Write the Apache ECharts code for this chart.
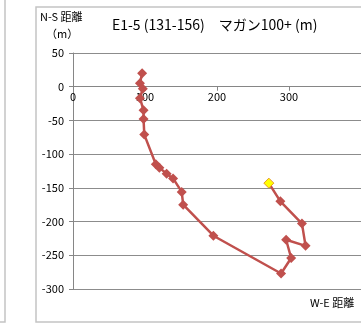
<!DOCTYPE html>
<html><head><meta charset="utf-8">
<script src="https://cdn.jsdelivr.net/npm/echarts@6/dist/echarts.min.js"></script>
<style>html,body{margin:0;padding:0;background:#fff}#c{width:361px;height:325px}</style>
</head><body><div id="c"></div>
<script>
const weDistance = [96, 93, 97, 93, 98, 98, 99, 115, 120, 130, 139, 151, 153, 195, 289, 303, 296, 323, 318, 288, 272];
const nsDistance = [20, 5, -3, -17, -35, -48, -71, -115, -120, -129, -136, -156, -175, -221, -277, -254, -227, -236, -203, -170, -143];
const xTicks = [0, 100, 200, 300, 400];
const yTicks = [50, 0, -50, -100, -150, -200, -250, -300];
const titleText = 'E1-5 (131-156)　マガン100+ (m)';
const yName1 = 'N-S 距離';
const yName2 = '（m）';
const xName = 'W-E 距離';

const FONT = '"Noto Sans CJK JP", "Noto Sans", sans-serif';
const GRID_TOP = 53, GRID_H = 236;
const yMin = yTicks[yTicks.length - 1], yMax = yTicks[0];
// place the x axis where y = 0 crosses the plot
const zeroOffset = -GRID_H * (0 - yMin) / (yMax - yMin);
const last = weDistance.length - 1;
const data = weDistance.map((x, i) => {
  const p = { value: [x, nsDistance[i]] };
  if (i === last) p.itemStyle = { color: '#FFFF00', borderColor: '#E69A28', borderWidth: 1 };
  return p;
});

const chart = echarts.init(document.getElementById('c'), null, { renderer: 'canvas' });
chart.setOption({
  animation: false,
  backgroundColor: '#fff',
  grid: { left: 73, top: GRID_TOP, width: 300, height: GRID_H, containLabel: false },
  xAxis: {
    type: 'value', min: xTicks[0], max: xTicks[xTicks.length - 1], interval: 100,
    position: 'bottom', offset: zeroOffset,
    axisLine: { show: true, onZero: false, lineStyle: { color: '#868686', width: 1 } },
    axisTick: { show: true, length: 4, lineStyle: { color: '#868686' } },
    axisLabel: { color: '#000', fontFamily: FONT, fontSize: 11, margin: 5, showMaxLabel: false },
    splitLine: { show: false }
  },
  yAxis: {
    type: 'value', min: yMin, max: yMax, interval: 50,
    axisLine: { show: true, onZero: false, lineStyle: { color: '#868686', width: 1 } },
    axisTick: { show: true, length: 4, lineStyle: { color: '#868686' } },
    axisLabel: { color: '#000', fontFamily: FONT, fontSize: 11, margin: 9 },
    splitLine: { show: true, lineStyle: { color: '#8c8c8c', width: 1 } }
  },
  series: [{
    type: 'line',
    data: data,
    symbol: 'diamond',
    symbolSize: 10,
    showAllSymbol: true,
    lineStyle: { color: '#C0504D', width: 2.5 },
    itemStyle: { color: '#C0504D' },
    z: 3
  }],
  graphic: [
    { type: 'rect', shape: { x: 36, y: 7, width: 340, height: 315 }, style: { fill: 'none', stroke: '#c4c4c4', lineWidth: 1.5 }, z: -1 },
    { type: 'polyline', shape: { points: [[5, 0], [5, 322], [0, 322]] }, style: { fill: 'none', stroke: '#c4c4c4', lineWidth: 1.5 } },
    { type: 'text', left: 40, top: 11, style: { text: yName1, fontFamily: FONT, fontSize: 11, fill: '#000' } },
    { type: 'text', left: 46, top: 28, style: { text: yName2, fontFamily: FONT, fontSize: 11, fill: '#000' } },
    { type: 'text', left: 112, top: 18, style: { text: titleText, fontFamily: FONT, fontSize: 14, fill: '#000' } },
    { type: 'text', left: 310, top: 297, style: { text: xName, fontFamily: FONT, fontSize: 11, fill: '#000' } }
  ]
});
</script></body></html>
